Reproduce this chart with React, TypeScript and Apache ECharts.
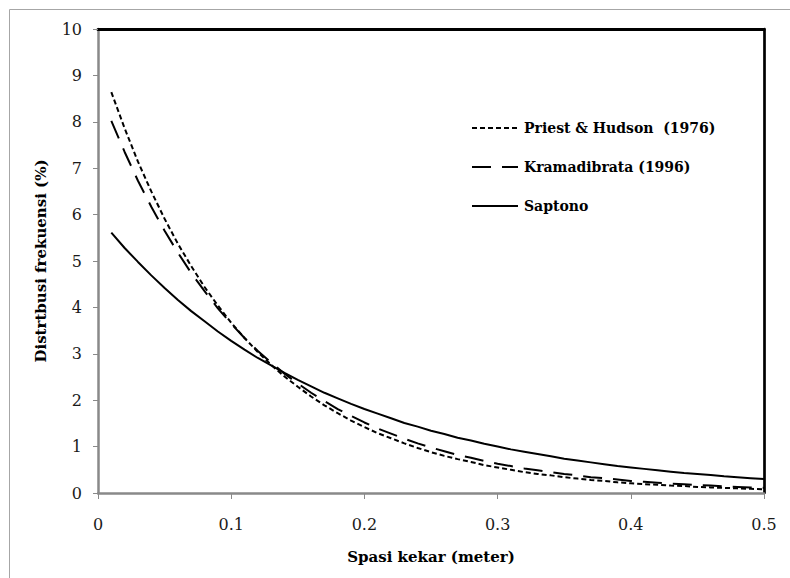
import React, { useEffect, useRef } from "react";
import * as echarts from "echarts";

const spacing = [
  0.01, 0.02, 0.03, 0.04, 0.05, 0.06, 0.07, 0.08, 0.09, 0.1,
  0.11, 0.12, 0.13, 0.14, 0.15, 0.16, 0.17, 0.18, 0.19, 0.2,
  0.21, 0.22, 0.23, 0.24, 0.25, 0.26, 0.27, 0.28, 0.29, 0.3,
  0.31, 0.32, 0.33, 0.34, 0.35, 0.36, 0.37, 0.38, 0.39, 0.4,
  0.41, 0.42, 0.43, 0.44, 0.45, 0.46, 0.47, 0.48, 0.49, 0.5,
];

const priestHudson = [
  8.64, 7.86, 7.14, 6.5, 5.91, 5.37, 4.89, 4.44, 4.04, 3.67,
  3.34, 3.04, 2.76, 2.51, 2.29, 2.08, 1.89, 1.72, 1.56, 1.42,
  1.29, 1.18, 1.07, 0.97, 0.88, 0.8, 0.73, 0.67, 0.6, 0.55,
  0.5, 0.45, 0.41, 0.38, 0.34, 0.31, 0.28, 0.26, 0.23, 0.21,
  0.19, 0.18, 0.16, 0.15, 0.13, 0.12, 0.11, 0.1, 0.09, 0.08,
];

const kramadibrata = [
  8.02, 7.35, 6.73, 6.17, 5.65, 5.18, 4.74, 4.35, 3.98, 3.65,
  3.34, 3.06, 2.81, 2.57, 2.36, 2.16, 1.98, 1.81, 1.66, 1.52,
  1.39, 1.28, 1.17, 1.07, 0.98, 0.9, 0.82, 0.76, 0.69, 0.63,
  0.58, 0.53, 0.49, 0.45, 0.41, 0.38, 0.34, 0.32, 0.29, 0.26,
  0.24, 0.22, 0.2, 0.19, 0.17, 0.16, 0.14, 0.13, 0.12, 0.11,
];

const saptono = [
  5.61, 5.28, 4.98, 4.69, 4.42, 4.16, 3.92, 3.7, 3.48, 3.28,
  3.09, 2.91, 2.75, 2.59, 2.44, 2.3, 2.16, 2.04, 1.92, 1.81,
  1.71, 1.61, 1.51, 1.43, 1.34, 1.27, 1.19, 1.13, 1.06, 1.0,
  0.94, 0.89, 0.84, 0.79, 0.74, 0.7, 0.66, 0.62, 0.58, 0.55,
  0.52, 0.49, 0.46, 0.43, 0.41, 0.39, 0.36, 0.34, 0.32, 0.3,
];

const seriesNames = ["Priest & Hudson  (1976)", "Kramadibrata (1996)", "Saptono"];
const dashTypes: (number[] | "solid")[] = [[5, 3], [19, 11], "solid"];

const serif = "DejaVu Serif";

export default function App() {
  const ref = useRef<HTMLDivElement>(null);

  useEffect(() => {
    if (!ref.current) return;
    const chart = echarts.init(ref.current, null, { renderer: "svg" });
    const pair = (ys: number[]) => spacing.map((x, i) => [x, ys[i]]);
    const gray = "#898989";

    const legendX = 472;
    const legendY0 = 128;
    const legendStep = 39;
    const legendGraphics: any[] = [];
    seriesNames.forEach((name, i) => {
      const y = legendY0 + i * legendStep;
      const dash = dashTypes[i];
      legendGraphics.push({
        type: "line",
        shape: { x1: legendX, y1: y, x2: legendX + 46, y2: y },
        style: {
          stroke: "#000",
          lineWidth: 2,
          lineDash: dash === "solid" ? null : dash,
        },
        silent: true,
      });
      legendGraphics.push({
        type: "text",
        x: legendX + 52,
        y: y,
        style: {
          text: name,
          fontFamily: serif,
          fontWeight: "bold",
          fontSize: 14,
          fill: "#000",
          verticalAlign: "middle",
          align: "left",
        },
        silent: true,
      });
    });

    chart.setOption({
      animation: false,
      backgroundColor: "#ffffff",
      textStyle: { fontFamily: serif },
      graphic: [
        {
          type: "rect",
          shape: { x: 9.5, y: 9.5, width: 800, height: 600 },
          style: { fill: "none", stroke: "#a6a6a6", lineWidth: 1 },
          silent: true,
        },
        ...legendGraphics,
      ],
      grid: { left: 98, right: 26, top: 29, bottom: 85 },
      xAxis: [
        {
          type: "value",
          min: 0,
          max: 0.5,
          interval: 0.1,
          name: "Spasi kekar (meter)",
          nameLocation: "middle",
          nameGap: 56,
          nameTextStyle: {
            fontFamily: serif,
            fontWeight: "bold",
            fontSize: 15,
            color: "#000",
          },
          axisLine: { show: true, onZero: false, lineStyle: { color: gray, width: 2.5 } },
          axisTick: { show: true, length: 6, lineStyle: { color: gray, width: 1 } },
          axisLabel: {
            margin: 23,
            fontFamily: serif,
            fontSize: 16,
            color: "#1a1a1a",
          },
          splitLine: { show: false },
        },
        {
          type: "value",
          position: "top",
          min: 0,
          max: 0.5,
          axisLine: { show: true, onZero: false, lineStyle: { color: "#000", width: 3 } },
          axisTick: { show: false },
          axisLabel: { show: false },
          splitLine: { show: false },
        },
      ],
      yAxis: [
        {
          type: "value",
          min: 0,
          max: 10,
          interval: 1,
          name: "Distrtbusi frekuensi (%)",
          nameLocation: "middle",
          nameGap: 50,
          nameTextStyle: {
            fontFamily: serif,
            fontWeight: "bold",
            fontSize: 15,
            color: "#000",
          },
          axisLine: { show: true, onZero: false, lineStyle: { color: gray, width: 2.5 } },
          axisTick: { show: true, length: 5, lineStyle: { color: gray, width: 1 } },
          axisLabel: {
            margin: 16,
            fontFamily: serif,
            fontSize: 16,
            color: "#1a1a1a",
          },
          splitLine: { show: false },
        },
        {
          type: "value",
          position: "right",
          min: 0,
          max: 10,
          axisLine: { show: true, onZero: false, lineStyle: { color: "#000", width: 2.7 } },
          axisTick: { show: false },
          axisLabel: { show: false },
          splitLine: { show: false },
        },
      ],
      series: [
        {
          name: seriesNames[0],
          type: "line",
          symbol: "none",
          data: pair(priestHudson),
          lineStyle: { color: "#000", width: 2, type: dashTypes[0] },
        },
        {
          name: seriesNames[1],
          type: "line",
          symbol: "none",
          data: pair(kramadibrata),
          lineStyle: { color: "#000", width: 2, type: dashTypes[1] },
        },
        {
          name: seriesNames[2],
          type: "line",
          symbol: "none",
          data: pair(saptono),
          lineStyle: { color: "#000", width: 2, type: dashTypes[2] },
        },
      ],
    });
    return () => chart.dispose();
  }, []);

  return (
    <div
      ref={ref}
      style={{ position: "fixed", left: 0, top: 0, width: 790, height: 578 }}
    />
  );
}
